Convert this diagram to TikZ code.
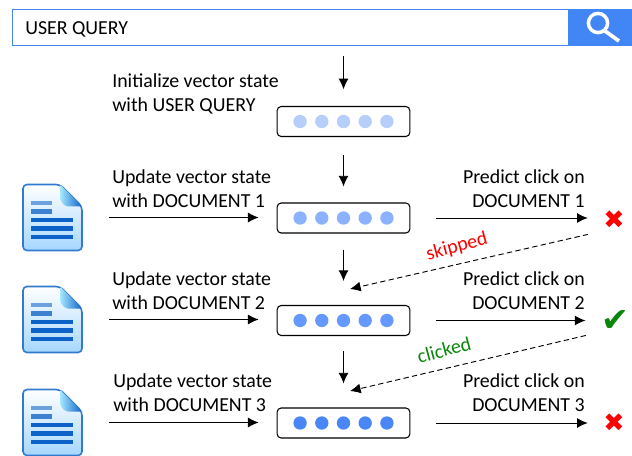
\documentclass[tikz,border=0pt]{standalone}
\usepackage{fontspec}
\setmainfont{Carlito}
\newfontfamily\symfont{DejaVu Sans}
\usetikzlibrary{arrows.meta,positioning,calc}

\definecolor{barblue}{HTML}{4285F4}
\definecolor{iconblue}{HTML}{0C62C8}
\definecolor{clickgreen}{HTML}{0B860B}

% document icon, drawn over an empty node
\newcommand{\docicon}[1]{
  \begin{scope}[shift={(#1)}]
    \draw[draw=iconblue!85, line width=1.2pt, rounded corners=3pt, top color=white, bottom color=blue!45!cyan!35]
      (-29.5,-33) -- (7.5,-33) -- (29.5,-11) -- (29.5,33) -- (-29.5,33) -- cycle;
    \shade[left color=blue!25!cyan!35, right color=iconblue, rounded corners=1.5pt]
      (7.5,-33) -- (29.5,-11) -- (13,-11) -- (7.5,-17) -- cycle;
    \fill[iconblue!60] (-21.5,-16.5) rectangle (-0.5,-12.5);
    \fill[iconblue!80] (-21.5,-8.5) rectangle (-0.5,-3.5);
    \fill[iconblue] (-21.5,0.5) rectangle (20,4.5);
    \fill[iconblue] (-21.5,8.5) rectangle (20,13.5);
    \fill[iconblue] (-21.5,17.5) rectangle (20,21.5);
  \end{scope}
}

\begin{document}
\begin{tikzpicture}[
    x=0.75pt, y=-0.75pt,
    every node/.style={font=\fontsize{14.9}{18}\selectfont},
    statebox/.style={rectangle, draw=black, thick, rounded corners=3pt, fill=white,
                     minimum width=99.5pt, minimum height=22.5pt, inner sep=0pt},
    dot/.style={circle, inner sep=0pt, minimum size=10pt},
    docnode/.style={minimum width=44pt, minimum height=50pt, inner sep=0pt},
    leftlabel/.style={align=left, anchor=west, inner sep=0pt},
    rightlabel/.style={align=right, anchor=east, inner sep=0pt},
    outcome/.style={minimum width=16pt, minimum height=16pt, inner sep=0pt, font=\symfont\fontsize{19}{19}\selectfont},
    arrow/.style={-{Latex[length=8pt,width=7.5pt]}, line width=0.7pt},
    dasharrow/.style={arrow, dashed, dash pattern=on 4pt off 2.5pt}
]
\useasboundingbox (0,0) rectangle (632,456);

% Search bar
\node[rectangle, draw=barblue, line width=0.9pt, minimum width=417pt, minimum height=27pt, inner sep=0pt] (querybar) at (290.5,27.5) {};
\node[rectangle, fill=barblue, minimum width=47.5pt, minimum height=28pt, inner sep=0pt] (searchbtn) at (600.5,27.5) {};
\node[leftlabel] (querytext) at (25,29) {USER QUERY};
\draw[white, line width=2.6pt] (598,23) circle (7.2pt);
\draw[white, line width=2.8pt] (605,31) -- (619,41);

% States
\node[statebox] (state0) at (343.5,121.5) {};
\node[statebox] (state1) at (343.5,218) {};
\node[statebox] (state2) at (343.5,320.5) {};
\node[statebox] (state3) at (343.5,423) {};
\foreach \s/\c in {0/B7CEFB,1/8CB2FF,2/6699FF,3/4A86F5} {
  \definecolor{dotcolor}{HTML}{\c}
  \foreach \i in {-2,...,2}
    \node[dot, fill=dotcolor] (dot\s\i) at ($(state\s)+(\i*21.7,0)$) {};
}

% Documents
\node[docnode] (doc1) at (52.5,217.5) {};
\node[docnode] (doc2) at (52.5,319.5) {};
\node[docnode] (doc3) at (52.5,422.5) {};
\docicon{doc1}
\docicon{doc2}
\docicon{doc3}

% Outcomes
\node[outcome, red] (mark1) at (614,220) {✖};
\node[outcome, clickgreen, font=\symfont\fontsize{25}{25}\selectfont] (mark2) at (615,321) {✔};
\node[outcome, red] (mark3) at (614,423) {✖};
\coordinate (merge1) at (350,289);
\coordinate (merge2) at (350,391);

% Arrows
\draw[arrow, shorten <=7.5pt, shorten >=12.5pt] (state0|-querybar.south) -- (state0);
\draw[arrow, shorten <=13.5pt, shorten >=12pt] (state0) -- (state1);
\draw[arrow, shorten <=12pt, shorten >=18pt] (state1) -- (state2);
\draw[arrow, shorten <=11.5pt, shorten >=18pt] (state2) -- (state3);
\foreach \n in {1,2,3} {
  \draw[arrow, shorten <=20pt, shorten >=13.5pt] (doc\n.east) -- (doc\n.east-|state\n.west);
  \draw[arrow, shorten <=19.5pt, shorten >=11.5pt] (state\n.east) -- (state\n.east-|mark\n.west);
}
\draw[dasharrow, shorten <=11.5pt] (mark1.south west) -- (merge1);
\draw[dasharrow, shorten <=11.5pt] (mark2.south west) -- (merge2);

% Labels
\node[leftlabel] (initlabel) at (112,93.5) {Initialize vector state\\with USER QUERY};
\node[leftlabel] (updlabel1) at (112,189) {Update vector state\\with DOCUMENT 1};
\node[leftlabel] (updlabel2) at (112,291) {Update vector state\\with DOCUMENT 2};
\node[leftlabel] (updlabel3) at (113,393) {Update vector state\\with DOCUMENT 3};
\node[rightlabel] (predlabel1) at (585,189) {Predict click on\\DOCUMENT 1};
\node[rightlabel] (predlabel2) at (585,291) {Predict click on\\DOCUMENT 2};
\node[rightlabel] (predlabel3) at (585,393) {Predict click on\\DOCUMENT 3};
\node[red, rotate=15] (skiplabel) at (457,247) {skipped};
\node[clickgreen, rotate=15] (clicklabel) at (444,350) {clicked};

\end{tikzpicture}
\end{document}
